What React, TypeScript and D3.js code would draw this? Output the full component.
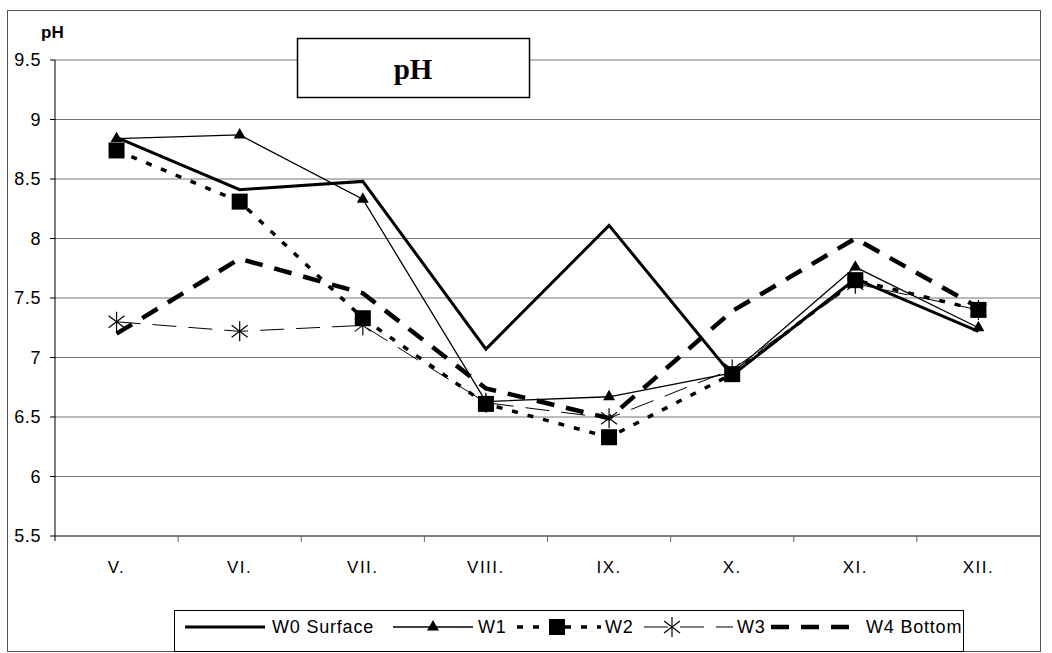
import React from 'react';
import * as d3 from 'd3';

const months = ['V.', 'VI.', 'VII.', 'VIII.', 'IX.', 'X.', 'XI.', 'XII.'];
const yTicks = [5.5, 6, 6.5, 7, 7.5, 8, 8.5, 9, 9.5];

const w0 = [8.85, 8.41, 8.48, 7.07, 8.11, 6.85, 7.66, 7.22];
const w1 = [8.84, 8.87, 8.33, 6.63, 6.67, 6.87, 7.76, 7.25];
const w2 = [8.74, 8.31, 7.33, 6.61, 6.33, 6.86, 7.65, 7.40];
const w3 = [7.30, 7.22, 7.27, 6.62, 6.49, 6.90, 7.62, 7.40];
const w4 = [7.20, 7.83, 7.54, 6.74, 6.49, 7.39, 8.00, 7.42];

type Marker = 'none' | 'triangle' | 'square' | 'star';
interface Series { name: string; values: number[]; width: number; dash: string; marker: Marker; }

const series: Series[] = [
  { name: 'W0 Surface', values: w0, width: 3, dash: '', marker: 'none' },
  { name: 'W1', values: w1, width: 1.3, dash: '', marker: 'triangle' },
  { name: 'W2', values: w2, width: 3.5, dash: '6 10', marker: 'square' },
  { name: 'W3', values: w3, width: 1, dash: '24 12', marker: 'star' },
  { name: 'W4 Bottom', values: w4, width: 4.5, dash: '18 12', marker: 'none' },
];

const font = 'Arial, "Liberation Sans", sans-serif';

const MarkerShape: React.FC<{ type: Marker; x: number; y: number }> = ({ type, x, y }) => {
  if (type === 'triangle') {
    const p = d3.symbol().type(d3.symbolTriangle).size(62)();
    return <path d={p || ''} transform={`translate(${x},${y})`} fill="#000" />;
  }
  if (type === 'square') {
    return <rect x={x - 8} y={y - 8} width={16} height={16} fill="#000" />;
  }
  if (type === 'star') {
    const r = 10;
    const d = r * 0.8;
    return (
      <g stroke="#000" strokeWidth={1.2}>
        <line x1={x - d} y1={y - d * 0.75} x2={x + d} y2={y + d * 0.75} />
        <line x1={x - d} y1={y + d * 0.75} x2={x + d} y2={y - d * 0.75} />
        <line x1={x} y1={y - r} x2={x} y2={y + r} />
      </g>
    );
  }
  return null;
};

export default function App() {
  const W = 1052;
  const H = 653;
  const plot = { left: 55, right: 1040, top: 60, bottom: 536 };

  const x = d3.scaleBand().domain(months).range([plot.left, plot.right]);
  const y = d3.scaleLinear().domain([5.5, 9.5]).range([plot.bottom, plot.top]);
  const cx = (m: string) => (x(m) || 0) + x.bandwidth() / 2;

  const line = d3.line<number>()
    .x((_, i) => cx(months[i]))
    .y(d => y(d));

  const legendItems = [
    { s: series[0], x1: 185, x2: 265, tx: 272, mx: 225 },
    { s: series[1], x1: 393, x2: 473, tx: 478, mx: 433 },
    { s: series[2], x1: 517, x2: 601, tx: 605, mx: 557 },
    { s: series[3], x1: 644, x2: 733, tx: 737, mx: 672 },
    { s: series[4], x1: 771, x2: 858, tx: 866, mx: 814 },
  ];

  return (
    <svg width={W} height={H} style={{ position: 'absolute', left: 0, top: 0, background: '#fff' }}
      fontFamily={font}>
      {/* outer frame */}
      <rect x={7.5} y={10.5} width={1033} height={641} fill="#fff" stroke="#555" />

      {/* grid */}
      {yTicks.map(t => (
        <g key={t}>
          <line x1={plot.left} x2={plot.right} y1={y(t)} y2={y(t)} stroke="#777" strokeWidth={1} />
          <line x1={plot.left - 5} x2={plot.left} y1={y(t)} y2={y(t)} stroke="#000" />
          <text x={plot.left - 14} y={y(t) + 6} textAnchor="end" fontSize={18} letterSpacing={0.6}>{t}</text>
        </g>
      ))}
      <line x1={plot.left} x2={plot.right} y1={plot.bottom} y2={plot.bottom} stroke="#444" />
      <line x1={plot.left} x2={plot.left} y1={plot.top} y2={plot.bottom + 5} stroke="#000" />

      {/* x axis */}
      {months.map((m, i) => (
        <g key={m}>
          {i > 0 && <line x1={x(m)} x2={x(m)} y1={plot.bottom} y2={plot.bottom + 6} stroke="#666" />}
          <text x={cx(m)} y={plot.bottom + 37} textAnchor="middle" fontSize={17} letterSpacing={1.5}>{m}</text>
        </g>
      ))}

      {/* axis title */}
      <text x={41} y={38} fontSize={17} fontWeight="bold">pH</text>

      {/* series */}
      {series.map(s => (
        <path key={s.name} d={line(s.values) || ''} fill="none" stroke="#000"
          strokeWidth={s.width} strokeDasharray={s.dash || undefined} strokeLinejoin="miter" />
      ))}
      {series.map(s => s.values.map((v, i) => (
        <MarkerShape key={s.name + i} type={s.marker} x={cx(months[i])} y={y(v)} />
      )))}

      {/* title box */}
      <rect x={297.5} y={38.5} width={232} height={59} fill="#fff" stroke="#000" strokeWidth={1.5} />
      <text x={413} y={79} textAnchor="middle" fontSize={29} fontWeight="bold"
        fontFamily='"Liberation Serif", "Times New Roman", serif'>pH</text>

      {/* legend */}
      <rect x={174.5} y={610.5} width={789} height={41} fill="#fff" stroke="#000" />
      {legendItems.map(({ s, x1, x2, tx, mx }) => (
        <g key={s.name}>
          <line x1={x1} x2={x2} y1={627} y2={627} stroke="#000" strokeWidth={s.width}
            strokeDasharray={s.dash || undefined} />
          <MarkerShape type={s.marker} x={mx} y={627} />
          <text x={tx} y={633} fontSize={18} letterSpacing={0.8}>{s.name}</text>
        </g>
      ))}
    </svg>
  );
}
